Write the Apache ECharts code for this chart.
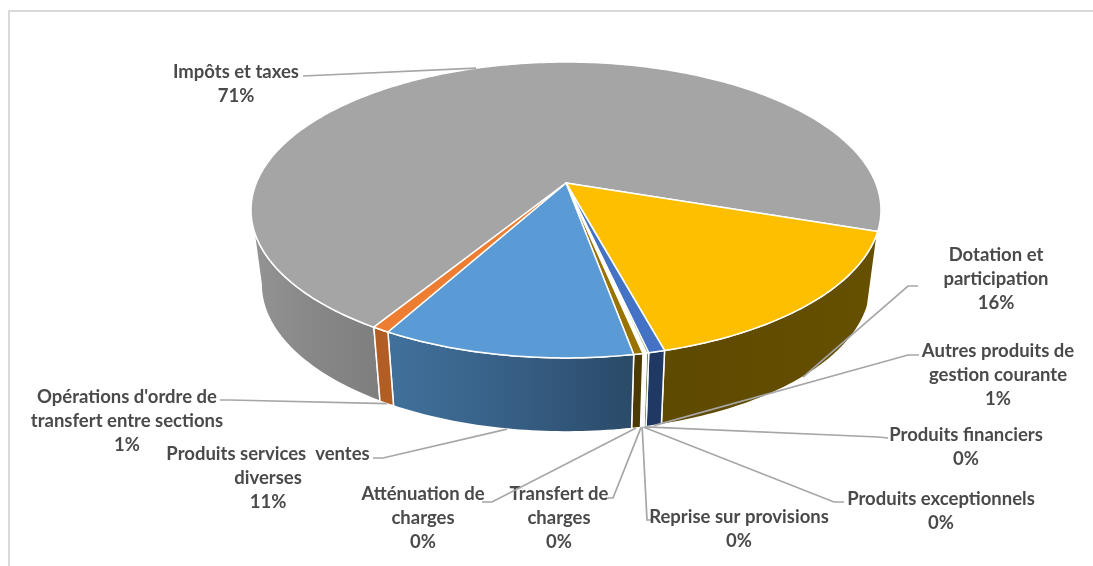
<!DOCTYPE html>
<html>
<head>
<meta charset="utf-8">
<style>html,body{margin:0;padding:0;background:#fff}#chart{width:1093px;height:566px}</style>
<script src="https://cdn.jsdelivr.net/npm/echarts@6/dist/echarts.min.js"></script>
</head>
<body>
<div id="chart"></div>
<script>
// Budget revenue shares, in percent, clockwise from the start of the largest slice
const categories = [
  "Impôts et taxes",
  "Dotation et\nparticipation",
  "Autres produits de\ngestion courante",
  "Produits financiers",
  "Produits exceptionnels",
  "Reprise sur provisions",
  "Transfert de\ncharges",
  "Atténuation de\ncharges",
  "Produits services  ventes\ndiverses",
  "Opérations d'ordre de\ntransfert entre sections"
];
const shares = [71.4, 15.6, 0.7, 0.1, 0.05, 0.05, 0.05, 0.4, 10.9, 0.75];

// Face and rim colours for each slice; rim stops run left to right
const faceColors = ["#a5a5a5", "#fdbf00", "#4472c4", "#70ad47", "#255e91", "#9e480e", "#636363", "#997300", "#5b9bd5", "#ed7d31"];
const rimColors = [
  ["#949494", "#878787", "#7e7e7e"],
  ["#5e4a00", "#614c00", "#665000"],
  ["#1f3864", "#1f3864", "#1f3864"],
  ["#43682b", "#43682b", "#43682b"],
  ["#163855", "#163855", "#163855"],
  ["#5f2b08", "#5f2b08", "#5f2b08"],
  ["#3b3b3b", "#3b3b3b", "#3b3b3b"],
  ["#4d3a00", "#4d3a00", "#4d3a00"],
  ["#41719c", "#375f85", "#2a4a68"],
  ["#b25d24", "#b25d24", "#b25d24"]
];

// Where each label sits: centre x, first-line y, elbow and end of its leader line
const labelPlaces = [
  {x: 236, y: 71, end: [303, 76]},
  {x: 996, y: 254, end: [918, 286], elbow: [908, 286]},
  {x: 998, y: 350, end: [919, 355], elbow: [908, 355]},
  {x: 966, y: 434, end: [888, 438], elbow: [878, 437]},
  {x: 941, y: 498, end: [844, 502], elbow: [834, 502]},
  {x: 739, y: 516, end: [653, 520], elbow: [647, 520]},
  {x: 559, y: 493, end: [608, 498], elbow: [613, 498]},
  {x: 423, y: 493, end: [482, 502], elbow: [492, 502]},
  {x: 268, y: 453, end: [373, 458], elbow: [383, 458]},
  {x: 127, y: 396, end: [220, 400], elbow: [230, 400]}
];

// Perspective pie: a circle is projected so that its centre lands on the apex
const pie = {
  cx: 566, apexY: 183, radius: 309.7, height: 143, tilt: 0.1824,
  topCy: 209, bottomCy: 283, bottomScaleX: 0.968, bottomScaleY: 1, startAngle: 211.6,
  rimFrom: 100.5, rimTo: 259.5
};

const total = shares.reduce((a, b) => a + b, 0);
const spans = [];
shares.reduce((from, v) => {
  const to = from + v / total * 360;
  spans.push([from, to]);
  return to;
}, pie.startAngle);

function topPoint(deg) {
  const r = deg * Math.PI / 180, u = Math.sin(r), v = -Math.cos(r), w = 1 - pie.tilt * v;
  return [pie.cx + pie.radius * u / w, pie.apexY + pie.height * v / w];
}
function bottomPoint(deg) {
  const p = topPoint(deg);
  return [pie.cx + pie.bottomScaleX * (p[0] - pie.cx), pie.bottomCy + pie.bottomScaleY * (p[1] - pie.topCy)];
}
function arc(fn, from, to) {
  const n = Math.max(2, Math.ceil(Math.abs(to - from)));
  const pts = [];
  for (let i = 0; i <= n; i++) pts.push(fn(from + (to - from) * i / n));
  return pts;
}

function renderRim(params, api) {
  const i = api.value(0);
  // Slices past the top of the circle come round again for the rim test
  const turn = spans[i][0] >= 360 ? 360 : 0;
  const from = Math.max(spans[i][0] - turn, pie.rimFrom), to = Math.min(spans[i][1] - turn, pie.rimTo);
  if (to <= from) return {type: 'group', children: []};
  const c = rimColors[i];
  return {
    type: 'polygon',
    shape: {points: arc(topPoint, from, to).concat(arc(bottomPoint, to, from))},
    style: {
      fill: new echarts.graphic.LinearGradient(0, 0, 1, 0, [
        {offset: 0, color: c[0]}, {offset: 0.5, color: c[1]}, {offset: 1, color: c[2]}
      ]),
      stroke: '#fff', lineWidth: 1.5, lineJoin: 'round'
    }
  };
}

function renderFace(params, api) {
  const i = api.value(0);
  return {
    type: 'polygon',
    shape: {points: [[pie.cx, pie.apexY]].concat(arc(topPoint, spans[i][0], spans[i][1]))},
    style: {fill: faceColors[i], stroke: '#fff', lineWidth: 1.5, lineJoin: 'round'}
  };
}

function renderLabel(params, api) {
  const i = api.value(0), place = labelPlaces[i];
  const mid = (spans[i][0] + spans[i][1]) / 2;
  const anchor = i === 0 ? topPoint(mid) : bottomPoint(mid);
  const pts = place.elbow ? [place.end, place.elbow, anchor] : [place.end, anchor];
  const text = categories[i] + "\n" + Math.round(shares[i]) + "%";
  return {
    type: 'group',
    children: [
      {type: 'polyline', shape: {points: pts}, style: {fill: 'none', stroke: '#a6a6a6', lineWidth: 1.7}},
      {type: 'text', x: place.x, y: place.y - 11, style: {
        text: text, fill: '#4a4a4a', font: 'bold 18.5px Lato', lineHeight: 24,
        align: 'center', verticalAlign: 'top'
      }}
    ]
  };
}

const rows = shares.map((v, i) => [i, v]);
const chart = echarts.init(document.getElementById('chart'), null, {renderer: 'canvas'});
chart.setOption({
  animation: false,
  backgroundColor: '#ffffff',
  graphic: [{
    type: 'polyline',
    shape: {points: [[9, 566], [9, 11], [1093, 11]]},
    style: {fill: 'none', stroke: '#d9d9d9', lineWidth: 2}
  }],
  series: [
    {type: 'custom', coordinateSystem: 'none', data: rows, renderItem: renderRim, z: 2},
    {type: 'custom', coordinateSystem: 'none', data: rows, renderItem: renderFace, z: 3},
    {type: 'custom', coordinateSystem: 'none', data: rows, renderItem: renderLabel, z: 4}
  ]
});
</script>
</body>
</html>
